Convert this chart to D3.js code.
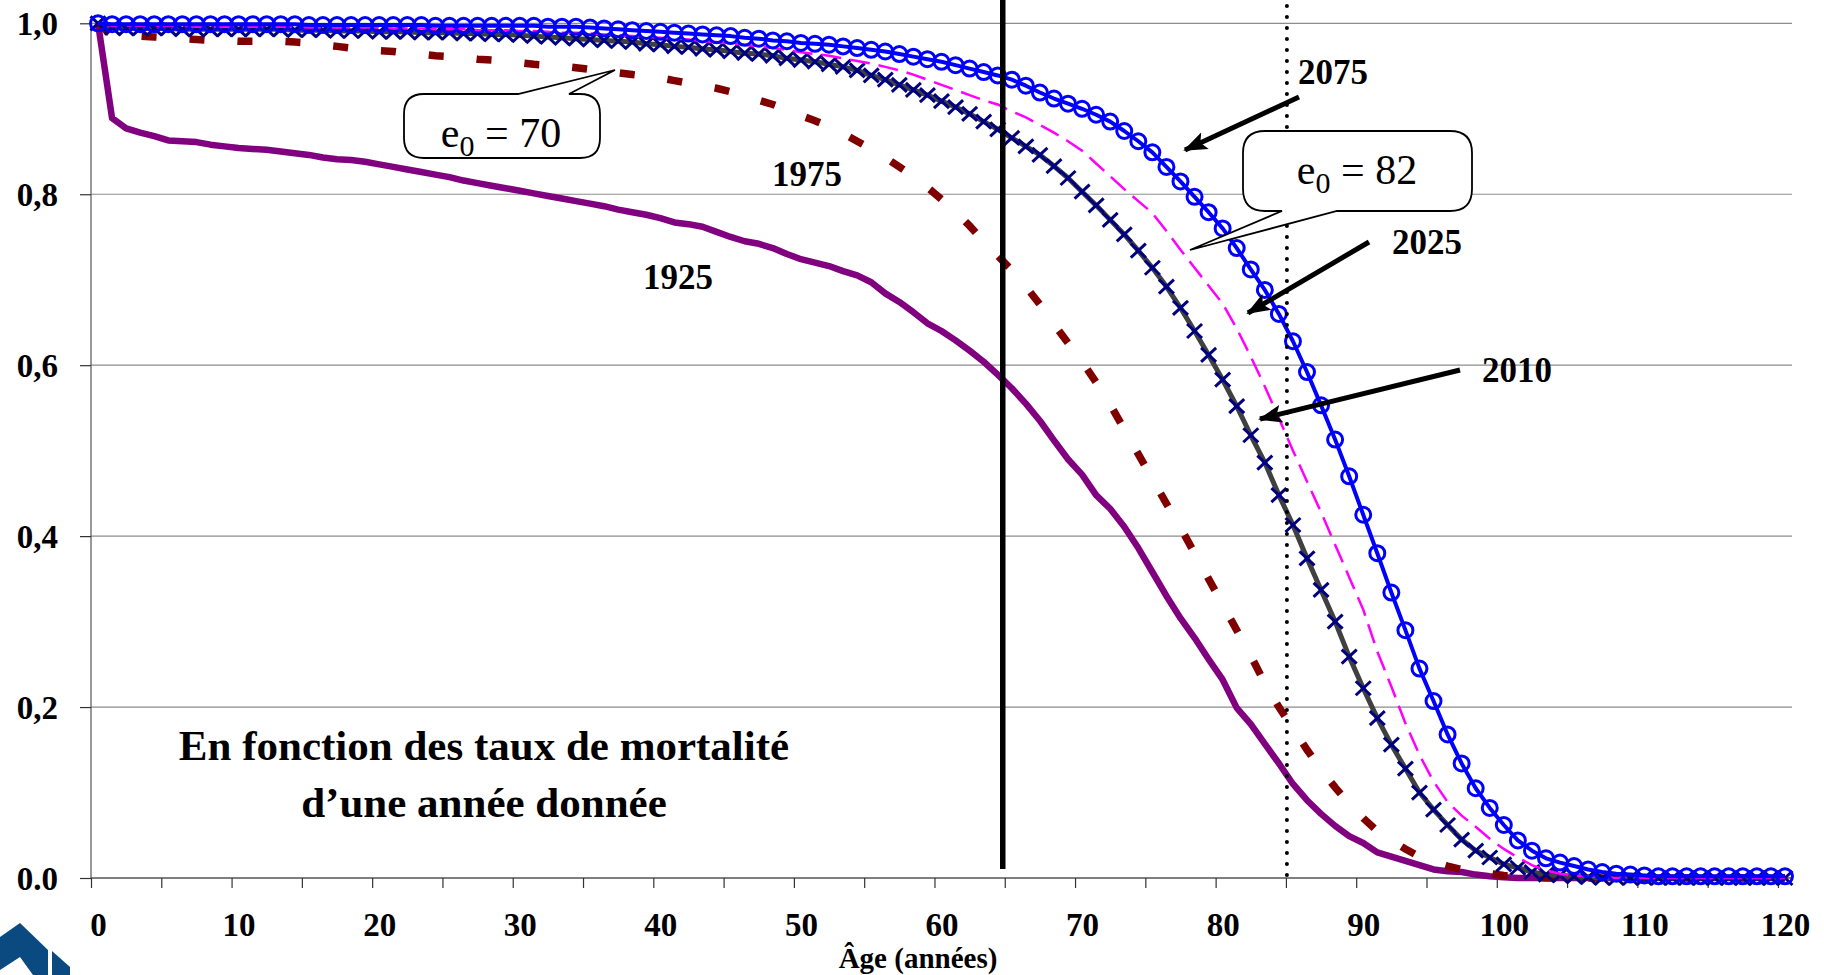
<!DOCTYPE html>
<html>
<head>
<meta charset="utf-8">
<script src="https://cdn.jsdelivr.net/npm/d3@7"></script>
<style>
  html, body { margin: 0; padding: 0; background: #fff; }
  svg { display: block; }
  text { font-family: "Liberation Serif", "Times New Roman", serif; }
</style>
</head>
<body>
<svg id="chart" width="1824" height="975"></svg>
<script>
// ---------- DATA ----------
const ages = d3.range(0, 121); // categories 0..120
const xTickLabels = [0, 10, 20, 30, 40, 50, 60, 70, 80, 90, 100, 110, 120];
const yTickValues = [0, 0.2, 0.4, 0.6, 0.8, 1.0];
const yTickLabels = ["0.0", "0,2", "0,4", "0,6", "0,8", "1,0"];

const s1925 = [1.000,0.889,0.877,0.872,0.868,0.863,0.862,0.861,0.858,0.856,
  0.854,0.853,0.852,0.850,0.848,0.846,0.843,0.841,0.840,0.838,
  0.835,0.832,0.829,0.826,0.823,0.820,0.816,0.813,0.810,0.807,
  0.804,0.801,0.798,0.795,0.792,0.789,0.786,0.782,0.779,0.776,
  0.772,0.767,0.765,0.762,0.756,0.750,0.745,0.742,0.737,0.730,
  0.724,0.720,0.716,0.710,0.705,0.697,0.684,0.674,0.662,0.649,
  0.640,0.629,0.617,0.604,0.589,0.573,0.555,0.535,0.512,0.490,
  0.472,0.448,0.432,0.411,0.386,0.358,0.330,0.304,0.281,0.256,
  0.232,0.199,0.180,0.157,0.134,0.110,0.091,0.075,0.061,0.049,
  0.041,0.030,0.025,0.020,0.015,0.010,0.008,0.007,0.004,0.002,
  0.001,0,0,0,0,0,0,0,0,0,
  0,0,0,0,0,0,0,0,0,0,0];

const s1975 = [1.000,0.986,0.985,0.985,0.984,0.983,0.982,0.981,0.980,0.980,
  0.979,0.979,0.979,0.979,0.978,0.977,0.975,0.973,0.971,0.970,
  0.968,0.967,0.965,0.964,0.962,0.961,0.960,0.958,0.957,0.956,
  0.954,0.952,0.951,0.950,0.948,0.946,0.944,0.942,0.940,0.938,
  0.936,0.933,0.930,0.927,0.924,0.920,0.915,0.910,0.905,0.899,
  0.892,0.886,0.879,0.871,0.862,0.853,0.843,0.832,0.821,0.808,
  0.794,0.780,0.763,0.745,0.728,0.711,0.692,0.671,0.648,0.626,
  0.604,0.580,0.554,0.525,0.496,0.467,0.438,0.410,0.380,0.350,
  0.320,0.290,0.260,0.228,0.200,0.175,0.150,0.127,0.106,0.087,
  0.070,0.055,0.044,0.034,0.025,0.019,0.014,0.010,0.007,0.005,
  0.003,0.002,0.001,0,0,0,0,0,0,0,
  0,0,0,0,0,0,0,0,0,0,0];

const s2010 = [1.000,0.995,0.994,0.994,0.994,0.994,0.993,0.993,0.993,0.993,
  0.993,0.993,0.993,0.993,0.992,0.992,0.992,0.991,0.991,0.991,
  0.990,0.990,0.990,0.989,0.989,0.989,0.988,0.988,0.987,0.987,
  0.986,0.985,0.984,0.983,0.982,0.981,0.980,0.979,0.978,0.976,
  0.975,0.973,0.972,0.970,0.969,0.967,0.965,0.964,0.962,0.959,
  0.957,0.955,0.952,0.949,0.945,0.939,0.934,0.928,0.922,0.916,
  0.909,0.902,0.894,0.885,0.876,0.866,0.856,0.846,0.833,0.819,
  0.803,0.787,0.770,0.753,0.734,0.714,0.692,0.667,0.640,0.612,
  0.583,0.552,0.518,0.486,0.448,0.413,0.374,0.337,0.300,0.259,
  0.222,0.187,0.156,0.128,0.100,0.080,0.062,0.045,0.032,0.024,
  0.016,0.012,0.007,0.004,0.003,0.002,0.001,0,0,0,
  0,0,0,0,0,0,0,0,0,0,0];

const s2025 = [1.000,0.997,0.997,0.997,0.997,0.997,0.997,0.996,0.996,0.996,
  0.996,0.996,0.996,0.996,0.996,0.995,0.995,0.995,0.995,0.995,
  0.995,0.994,0.994,0.994,0.993,0.993,0.993,0.992,0.992,0.992,
  0.991,0.991,0.990,0.989,0.989,0.988,0.987,0.986,0.985,0.984,
  0.983,0.982,0.981,0.979,0.978,0.976,0.975,0.973,0.971,0.969,
  0.966,0.964,0.962,0.959,0.956,0.953,0.949,0.945,0.940,0.934,
  0.928,0.922,0.916,0.910,0.905,0.897,0.890,0.881,0.872,0.862,
  0.851,0.836,0.821,0.806,0.792,0.778,0.757,0.735,0.714,0.693,
  0.672,0.643,0.610,0.575,0.538,0.500,0.464,0.428,0.390,0.352,
  0.314,0.265,0.224,0.181,0.144,0.113,0.089,0.073,0.060,0.046,
  0.034,0.024,0.015,0.009,0.005,0.003,0.002,0.001,0,0,
  0,0,0,0,0,0,0,0,0,0,0];

const s2075 = [1.000,0.999,0.999,0.999,0.999,0.999,0.999,0.999,0.999,0.999,
  0.999,0.999,0.999,0.999,0.999,0.998,0.998,0.998,0.998,0.998,
  0.998,0.998,0.998,0.998,0.997,0.997,0.997,0.997,0.997,0.997,
  0.997,0.997,0.996,0.996,0.996,0.995,0.994,0.993,0.992,0.991,
  0.990,0.989,0.988,0.987,0.986,0.985,0.983,0.982,0.980,0.979,
  0.977,0.976,0.975,0.973,0.971,0.969,0.967,0.964,0.961,0.958,
  0.955,0.951,0.947,0.943,0.939,0.934,0.927,0.919,0.912,0.906,
  0.900,0.893,0.885,0.874,0.862,0.849,0.832,0.815,0.797,0.779,
  0.760,0.737,0.712,0.688,0.660,0.628,0.592,0.553,0.513,0.470,
  0.425,0.380,0.334,0.290,0.245,0.207,0.168,0.134,0.105,0.082,
  0.062,0.044,0.032,0.023,0.018,0.014,0.010,0.007,0.005,0.004,
  0.003,0.002,0.002,0.002,0.002,0.002,0.002,0.002,0.002,0.002,0.002];

const refAges = [65, 85];

// ---------- LAYOUT ----------
const plot = { left: 91, right: 1792, top: 23.3, bottom: 878 };
const FONT = '"Liberation Serif", "Times New Roman", serif';

const svg = d3.select("#chart");

// band boundaries scale (categories 0..120 -> 121 slots)
const xB = d3.scaleLinear().domain([0, ages.length]).range([plot.left, plot.right]);
// category centre scale
const xP = d3.scaleLinear().domain([-0.5, ages.length - 0.5]).range([plot.left, plot.right]);
const y = d3.scaleLinear().domain([0, 1]).range([plot.bottom, plot.top]);

// gridlines
svg.append("g").selectAll("line")
  .data(yTickValues.filter(v => v > 0))
  .join("line")
  .attr("x1", plot.left).attr("x2", plot.right)
  .attr("y1", d => y(d)).attr("y2", d => y(d))
  .attr("stroke", "#8c8c8c").attr("stroke-width", 1.2);

// Y axis
const yAxis = d3.axisLeft(y).tickValues(yTickValues)
  .tickFormat((d, i) => yTickLabels[i]).tickSize(11).tickPadding(22);
const gy = svg.append("g").attr("transform", `translate(${plot.left},0)`).call(yAxis);
gy.select(".domain").attr("stroke", "#555").attr("stroke-width", 1.2).attr("d", `M0,${plot.bottom}V${plot.top}`);
gy.selectAll(".tick line").attr("stroke", "#333").attr("stroke-width", 1.2);
gy.selectAll(".tick text").attr("font-family", FONT).attr("font-size", 33)
  .attr("font-weight", "bold").attr("fill", "#000").attr("dy", "0.34em");

// X axis (ticks at category boundaries every 5)
const xAxisTicks = d3.axisBottom(xB).tickValues(d3.range(0, ages.length, 5))
  .tickSize(10).tickFormat("");
const gx = svg.append("g").attr("transform", `translate(0,${plot.bottom})`).call(xAxisTicks);
gx.select(".domain").attr("stroke", "#555").attr("stroke-width", 1.5).attr("d", `M${plot.left},0H${plot.right}`);
gx.selectAll(".tick line").attr("stroke", "#333").attr("stroke-width", 1.2);

// X labels at category centres
const xAxisLabels = d3.axisBottom(xP).tickValues(xTickLabels).tickSize(0).tickPadding(35);
const gxl = svg.append("g").attr("transform", `translate(0,${plot.bottom})`).call(xAxisLabels);
gxl.select(".domain").remove();
gxl.selectAll(".tick text").attr("font-family", FONT).attr("font-size", 33)
  .attr("font-weight", "bold").attr("fill", "#000");

// axis title
svg.append("text").attr("x", 918).attr("y", 968).attr("text-anchor", "middle")
  .attr("font-family", FONT).attr("font-size", 29).attr("font-weight", "bold")
  .text("Âge (années)");

// ---------- SERIES ----------
const line = d3.line().x((d, i) => xP(ages[i])).y(d => y(d));

// 1925
svg.append("path").datum(s1925).attr("d", line).attr("fill", "none")
  .attr("stroke", "#800080").attr("stroke-width", 6.5).attr("stroke-linejoin", "round");
// 1975
svg.append("path").datum(s1975).attr("d", line).attr("fill", "none")
  .attr("stroke", "#800000").attr("stroke-width", 7.5).attr("stroke-dasharray", "15,33");
// 2010
svg.append("path").datum(s2010).attr("d", line).attr("fill", "none")
  .attr("stroke", "#404040").attr("stroke-width", 5).attr("stroke-linejoin", "round");
svg.append("g").selectAll("path").data(s2010).join("path")
  .attr("transform", (d, i) => `translate(${xP(ages[i])},${y(d)})`)
  .attr("d", "M-7.5,-7L7.5,7M-7.5,7L7.5,-7")
  .attr("stroke", "#000080").attr("stroke-width", 3).attr("fill", "none");
// 2025
svg.append("path").datum(s2025).attr("d", line).attr("fill", "none")
  .attr("stroke", "#ff00ff").attr("stroke-width", 2.5).attr("stroke-dasharray", "20,9");
// 2075
svg.append("path").datum(s2075).attr("d", line).attr("fill", "none")
  .attr("stroke", "#0000ff").attr("stroke-width", 4).attr("stroke-linejoin", "round");
svg.append("g").selectAll("circle").data(s2075).join("circle")
  .attr("cx", (d, i) => xP(ages[i])).attr("cy", d => y(d)).attr("r", 7.5)
  .attr("fill", "none").attr("stroke", "#0000ff").attr("stroke-width", 3);

// ---------- REFERENCE LINES ----------
svg.append("line").attr("x1", xB(refAges[0]) - 2).attr("x2", xB(refAges[0]) - 2)
  .attr("y1", 0).attr("y2", 869).attr("stroke", "#000").attr("stroke-width", 5.5);
svg.append("line").attr("x1", xB(refAges[1]) + 1).attr("x2", xB(refAges[1]) + 1)
  .attr("y1", 6).attr("y2", 884).attr("stroke", "#000").attr("stroke-width", 4)
  .attr("stroke-linecap", "round").attr("stroke-dasharray", "0,11");

// ---------- CALLOUTS ----------
function callout(x0, y0, x1, y1, r, side, a, b, tip) {
  const p = d3.path();
  p.moveTo(x0 + r, y0);
  if (side === "top") { p.lineTo(a, y0); p.lineTo(tip[0], tip[1]); p.lineTo(b, y0); }
  p.lineTo(x1 - r, y0);
  p.quadraticCurveTo(x1, y0, x1, y0 + r);
  p.lineTo(x1, y1 - r);
  p.quadraticCurveTo(x1, y1, x1 - r, y1);
  if (side === "bottom") { p.lineTo(b, y1); p.lineTo(tip[0], tip[1]); p.lineTo(a, y1); }
  p.lineTo(x0 + r, y1);
  p.quadraticCurveTo(x0, y1, x0, y1 - r);
  p.lineTo(x0, y0 + r);
  p.quadraticCurveTo(x0, y0, x0 + r, y0);
  p.closePath();
  return p.toString();
}
const callouts = [
  { box: [404, 94, 600, 158], r: 20, side: "top", a: 518, b: 569, tip: [615, 70], cx: 501, by: 147, value: "70" },
  { box: [1243, 131, 1472, 211], r: 22, side: "bottom", a: 1282, b: 1337, tip: [1190, 250], cx: 1357, by: 184, value: "82" }
];
callouts.forEach(c => {
  svg.append("path").attr("d", callout(c.box[0], c.box[1], c.box[2], c.box[3], c.r, c.side, c.a, c.b, c.tip))
    .attr("fill", "#fff").attr("stroke", "#000").attr("stroke-width", 1.8).attr("stroke-linejoin", "miter");
  const t = svg.append("text").attr("x", c.cx).attr("y", c.by).attr("text-anchor", "middle")
    .attr("font-family", FONT).attr("font-size", 42);
  t.append("tspan").text("e");
  t.append("tspan").attr("font-size", 30).attr("dy", 9).text("0");
  t.append("tspan").attr("dy", -9).text(" = " + c.value);
});

// ---------- ARROWS ----------
svg.append("defs").append("marker").attr("id", "ah")
  .attr("viewBox", "0 -10 24 20").attr("refX", 22).attr("refY", 0)
  .attr("markerUnits", "userSpaceOnUse").attr("markerWidth", 24).attr("markerHeight", 20)
  .attr("orient", "auto")
  .append("path").attr("d", "M0,-9L24,0L0,9L5,0Z").attr("fill", "#000");
const arrows = [
  [1299, 97, 1185, 150],
  [1369, 242, 1248, 313],
  [1460, 370, 1260, 419]
];
svg.append("g").selectAll("line").data(arrows).join("line")
  .attr("x1", d => d[0]).attr("y1", d => d[1]).attr("x2", d => d[2]).attr("y2", d => d[3])
  .attr("stroke", "#000").attr("stroke-width", 5).attr("marker-end", "url(#ah)");

// ---------- LABELS ----------
const yearLabels = [
  { t: "1975", x: 807, y: 186 },
  { t: "1925", x: 678, y: 289 },
  { t: "2075", x: 1333, y: 84 },
  { t: "2025", x: 1427, y: 254 },
  { t: "2010", x: 1517, y: 382 }
];
svg.append("g").selectAll("text").data(yearLabels).join("text")
  .attr("x", d => d.x).attr("y", d => d.y).attr("text-anchor", "middle")
  .attr("font-family", FONT).attr("font-size", 35).attr("font-weight", "bold")
  .text(d => d.t);

const noteLines = ["En fonction des taux de mortalité", "d’une année donnée"];
svg.append("g").selectAll("text").data(noteLines).join("text")
  .attr("x", 484).attr("y", (d, i) => 760 + i * 57).attr("text-anchor", "middle")
  .attr("font-family", FONT).attr("font-size", 43).attr("font-weight", "bold")
  .text(d => d);

// ---------- LOGO ----------
svg.append("polygon").attr("points", "0,937 20,923 48,950 48,975 33,975 20,957 0,970").attr("fill", "#0b4a80");
svg.append("polygon").attr("points", "52,951 70,967 70,975 52,975").attr("fill", "#0b4a80");
</script>
</body>
</html>
